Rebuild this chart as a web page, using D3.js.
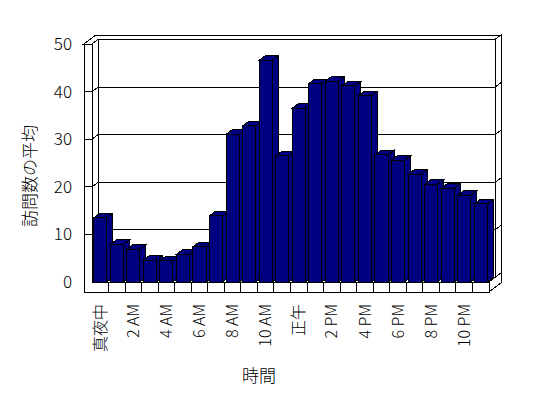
<!DOCTYPE html>
<html>
<head>
<meta charset="utf-8">
<script src="https://cdn.jsdelivr.net/npm/d3@7"></script>
<style>
  body { margin: 0; background: #fff; }
  svg { display: block; font-family: "Noto Sans CJK JP", sans-serif; font-weight: 300; }
</style>
</head>
<body>
<div id="chart"></div>
<script>
// 時間ごとの訪問数の平均
const hours = ["真夜中", "1 AM", "2 AM", "3 AM", "4 AM", "5 AM", "6 AM", "7 AM", "8 AM", "9 AM", "10 AM", "11 AM",
    "正午", "1 PM", "2 PM", "3 PM", "4 PM", "5 PM", "6 PM", "7 PM", "8 PM", "9 PM", "10 PM", "11 PM"];
const visits = [13.5, 7.9, 6.9, 4.6, 4.5, 5.8, 7.4, 13.9, 31.0, 32.8, 46.6, 26.5,
    36.5, 41.7, 42.2, 41.2, 39.1, 26.7, 25.6, 22.6, 20.5, 19.7, 18.2, 16.4];
const yTicks = [0, 10, 20, 30, 40, 50];
const xTickLabels = ["真夜中", "2 AM", "4 AM", "6 AM", "8 AM", "10 AM", "正午", "2 PM", "4 PM", "6 PM", "8 PM", "10 PM"];

const width = 548;
const height = 398;

const left = 84, wallW = 8, right = 489;
const floorTop = 282, floorBottom = 292;
const dx = 6, dy = -4.5;   // one step of depth

const y = d3.scaleLinear().domain([0, 50]).range([floorTop, 44]);
const x = d3.scaleBand().domain(hours).range([left + wallW, right]);
const xBar = d3.scaleBand().domain(hours).range([left + wallW, right]).paddingInner(0.21).paddingOuter(0.105);

const svg = d3.select("#chart")
    .append("svg")
    .attr("width", width)
    .attr("height", height);

const frame = svg.append("g")
    .attr("fill", "#fff")
    .attr("stroke", "#000")
    .attr("stroke-width", 1)
    .style("shape-rendering", "crispEdges");

const path = pts => "M" + pts.map(p => p.join(",")).join("L") + "Z";
const topY = y(50);
const inner = left + wallW;

// back wall
frame.append("path")
    .attr("d", path([[inner + dx, topY + dy], [right + dx, topY + dy], [right + dx, floorTop + dy], [inner + dx, floorTop + dy]]));

// top of the walls
frame.append("path")
    .attr("d", path([[left, topY], [inner, topY], [inner + dx, topY + dy], [right + dx, topY + dy],
        [right + 2 * dx, topY + 2 * dy], [left + 2 * dx, topY + 2 * dy]]));

// right side of back wall
frame.append("path")
    .attr("d", path([[right + dx, topY + dy], [right + 2 * dx, topY + 2 * dy], [right + 2 * dx, floorTop + 2 * dy], [right + dx, floorTop + dy]]));

// left wall inner face
frame.append("path")
    .attr("d", path([[inner, topY], [inner + dx, topY + dy], [inner + dx, floorTop + dy], [inner, floorTop]]));

// floor top and right side
frame.append("path")
    .attr("d", path([[inner, floorTop], [right, floorTop], [right + dx, floorTop + dy], [inner + dx, floorTop + dy]]));
frame.append("path")
    .attr("d", path([[right, floorTop], [right + 2 * dx, floorTop + 2 * dy], [right + 2 * dx, floorBottom + 2 * dy], [right, floorBottom]]));

// gridlines
const grid = yTicks.filter(v => v > 0 && v < 50);
grid.forEach(v => {
    frame.append("path")
        .attr("fill", "none")
        .attr("d", `M${left},${y(v)}L${inner},${y(v)}L${inner + dx},${y(v) + dy}L${right + dx},${y(v) + dy}L${right + 2 * dx},${y(v) + 2 * dy}`);
});

// bars
const bars = svg.append("g")
    .attr("fill", "#000080")
    .attr("stroke", "#000")
    .attr("stroke-width", 1)
    .style("shape-rendering", "crispEdges");

const bw = xBar.bandwidth();
hours.forEach((h, i) => {
    const bx = xBar(h);
    const by = y(visits[i]);
    const g = bars.append("g");
    g.append("path")
        .attr("d", path([[bx + bw, by], [bx + bw + dx, by + dy], [bx + bw + dx, floorTop + dy], [bx + bw, floorTop]]));
    g.append("path")
        .attr("d", path([[bx, by], [bx + bw, by], [bx + bw + dx, by + dy], [bx + dx, by + dy]]));
    g.append("rect")
        .attr("x", bx)
        .attr("y", by)
        .attr("width", bw)
        .attr("height", floorTop - by);
});

// front faces of the wall and floor
const front = svg.append("g")
    .attr("fill", "#fff")
    .attr("stroke", "#000")
    .attr("stroke-width", 1)
    .style("shape-rendering", "crispEdges");

front.append("path")
    .attr("d", path([[left, topY], [inner, topY], [inner, floorTop], [right, floorTop], [right, floorBottom], [left, floorBottom]]));

grid.forEach(v => {
    front.append("line")
        .attr("x1", left).attr("x2", inner)
        .attr("y1", y(v)).attr("y2", y(v));
});

hours.slice(1).forEach(h => {
    front.append("line")
        .attr("x1", x(h)).attr("x2", x(h))
        .attr("y1", floorTop).attr("y2", floorBottom);
});

// y labels
svg.append("g")
    .selectAll("text")
    .data(yTicks)
    .enter()
    .append("text")
    .attr("x", 72)
    .attr("y", d => y(d))
    .attr("dy", "0.35em")
    .attr("text-anchor", "end")
    .style("font-size", "17px")
    .text(d => d);

// x labels
svg.append("g")
    .selectAll("text")
    .data(xTickLabels)
    .enter()
    .append("text")
    .attr("transform", d => `translate(${x(d) + x.bandwidth() / 2}, 304) rotate(-90)`)
    .attr("dy", "0.35em")
    .attr("text-anchor", "end")
    .style("font-size", "16px")
    .text(d => d);

svg.append("text")
    .attr("transform", "translate(30, 176) rotate(-90)")
    .attr("dy", "0.35em")
    .attr("text-anchor", "middle")
    .style("font-size", "17px")
    .text("訪問数の平均");

svg.append("text")
    .attr("x", 259)
    .attr("y", 376)
    .attr("dy", "0.35em")
    .attr("text-anchor", "middle")
    .style("font-size", "17px")
    .text("時間");
</script>
</body>
</html>
